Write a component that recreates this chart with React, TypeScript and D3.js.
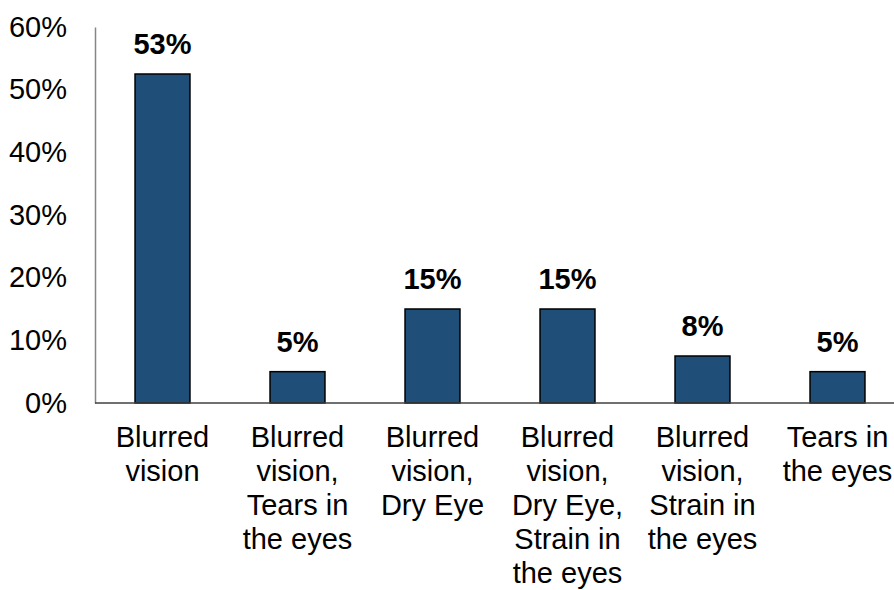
import React, { useRef, useEffect } from "react";
import * as d3 from "d3";

const categories = [
  ["Blurred", "vision"],
  ["Blurred", "vision,", "Tears in", "the eyes"],
  ["Blurred", "vision,", "Dry Eye"],
  ["Blurred", "vision,", "Dry Eye,", "Strain in", "the eyes"],
  ["Blurred", "vision,", "Strain in", "the eyes"],
  ["Tears in", "the eyes"],
];
const values = [52.5, 5, 15, 15, 7.5, 5];
const yTicks = [0, 10, 20, 30, 40, 50, 60];

const width = 894;
const height = 590;
const margin = { top: 27, right: -11, bottom: 187, left: 95 };

const App: React.FC = () => {
  const svgRef = useRef<SVGSVGElement | null>(null);

  useEffect(() => {
    if (!svgRef.current) return;
    const svg = d3.select(svgRef.current);
    svg.selectAll("*").remove();

    const innerWidth = width - margin.left - margin.right;
    const innerHeight = height - margin.top - margin.bottom;
    const font = "Arial, 'Liberation Sans', sans-serif";

    const keys = categories.map((_, i) => String(i));
    const x = d3.scaleBand().domain(keys).range([0, innerWidth]).paddingInner(0.593).paddingOuter(0.2965);
    const y = d3.scaleLinear().domain([0, 60]).range([innerHeight, 0]);

    const g = svg.append("g").attr("transform", `translate(${margin.left},${margin.top})`);

    // y axis: labels only plus a grey line
    const yAxis = g
      .append("g")
      .call(d3.axisLeft(y).tickValues(yTicks).tickSize(0).tickPadding(28).tickFormat((d) => `${d}%`));
    yAxis.select(".domain").attr("stroke", "#868686").attr("stroke-width", 1.5);
    yAxis.selectAll("text").style("font-size", "29px").style("font-family", font).attr("fill", "#000");

    // bars
    g.selectAll("rect.bar")
      .data(values)
      .enter()
      .append("rect")
      .attr("class", "bar")
      .attr("x", (_, i) => x(String(i)) as number)
      .attr("y", (d) => y(d))
      .attr("width", x.bandwidth())
      .attr("height", (d) => innerHeight - y(d))
      .attr("fill", "#1f4e79")
      .attr("stroke", "#000")
      .attr("stroke-width", 1.5);

    // x axis line
    g.append("line")
      .attr("x1", 0)
      .attr("x2", innerWidth)
      .attr("y1", innerHeight)
      .attr("y2", innerHeight)
      .attr("stroke", "#404040")
      .attr("stroke-width", 1.5);

    // value labels
    g.selectAll("text.val")
      .data(values)
      .enter()
      .append("text")
      .attr("class", "val")
      .attr("x", (_, i) => (x(String(i)) as number) + x.bandwidth() / 2)
      .attr("y", (d) => y(d) - 20)
      .attr("text-anchor", "middle")
      .style("font-size", "29px")
      .style("font-weight", "bold")
      .style("font-family", font)
      .text((d) => `${Math.round(d + 0.001)}%`);

    // category labels
    const cat = g
      .selectAll("text.cat")
      .data(categories)
      .enter()
      .append("text")
      .attr("class", "cat")
      .attr("x", (_, i) => (x(String(i)) as number) + x.bandwidth() / 2)
      .attr("y", innerHeight + 44)
      .attr("text-anchor", "middle")
      .style("font-size", "29px")
      .style("font-family", font);
    cat
      .selectAll("tspan")
      .data((d) => d)
      .enter()
      .append("tspan")
      .attr("x", function () {
        return (this as SVGTSpanElement).parentElement?.getAttribute("x") ?? 0;
      })
      .attr("dy", (_, j) => (j === 0 ? 0 : 34))
      .text((d) => d);
  }, []);

  return (
    <div style={{ position: "absolute", left: 0, top: 0, width, height, overflow: "hidden", background: "#fff" }}>
      <svg ref={svgRef} width={width} height={height} />
    </div>
  );
};

export default App;
